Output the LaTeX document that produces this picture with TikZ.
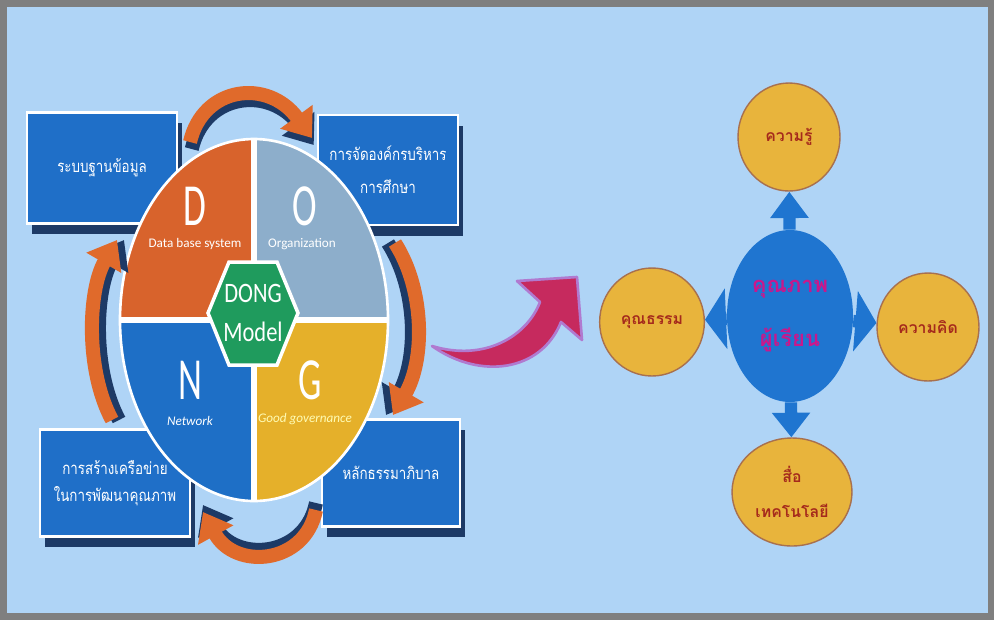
\documentclass[tikz,border=0pt]{standalone}
\usepackage{fontspec}
\usepackage{graphicx}
\setmainfont{Carlito}
\newfontfamily\thai[Script=Thai]{Loma}
\usetikzlibrary{shapes.geometric, arrows.meta, shadows}

\definecolor{bgblue}{HTML}{AFD4F6}
\definecolor{framegray}{HTML}{7F7F7F}
\definecolor{boxblue}{HTML}{1F6FC8}
\definecolor{navyshade}{HTML}{1D3A66}
\definecolor{dorange}{HTML}{D8632C}
\definecolor{ogray}{HTML}{8DAECB}
\definecolor{nblue}{HTML}{1E6FC6}
\definecolor{gyellow}{HTML}{E5B02A}
\definecolor{hexgreen}{HTML}{1F9B5D}
\definecolor{arrorange}{HTML}{E06A2B}
\definecolor{pinkarr}{HTML}{C62A5E}
\definecolor{pinkedge}{HTML}{B07AD0}
\definecolor{coreblue}{HTML}{1F75D0}
\definecolor{circyellow}{HTML}{E8B43C}
\definecolor{circedge}{HTML}{A8704E}
\definecolor{topicred}{HTML}{A52A1C}
\definecolor{coremag}{HTML}{C8188C}

\newcommand{\bigletter}[1]{\scalebox{0.62}[1]{\fontsize{34}{34}\selectfont #1}}
\newcommand{\squeeze}[1]{\scalebox{0.8}[1]{#1}}

\begin{document}
\begin{tikzpicture}[x=0.02cm, y=-0.02cm,
	panel/.style={fill=boxblue, draw=white, line width=1.5pt, text=white,
		align=center, font=\thai\fontsize{9.5}{19}\selectfont,
		drop shadow={shadow xshift=3pt, shadow yshift=-6pt, fill=navyshade, opacity=1}},
	quadletter/.style={text=white, inner sep=0pt},
	quadtext/.style={text=white, inner sep=1pt, font=\fontsize{7.5}{8}\selectfont},
	cyc/.style={draw=arrorange, line width=8pt, -{Triangle[width=22pt,length=15pt]}},
	cycshade/.style={draw=navyshade, line width=8pt, -{Triangle[width=22pt,length=15pt]}},
	topic/.style={ellipse, fill=circyellow, draw=circedge, line width=0.8pt,
		minimum width=2.04cm, minimum height=2.16cm, text=topicred, align=center,
		font=\thai\bfseries\fontsize{9}{20}\selectfont},
	spoke/.style={draw=coreblue, line width=7pt}]
	\path[use as bounding box] (0,0) rectangle (994,620);
	\fill[framegray] (0,0) rectangle (994,620);
	\fill[bgblue] (7,7) rectangle (988,613);
	
	% boxes round the model
	\node[panel, minimum width=3cm, minimum height=2.22cm] (dbbox) at (102,168) {\squeeze{ระบบฐานข้อมูล}};
	\node[panel, minimum width=2.8cm, minimum height=2.2cm] (orgbox) at (388,170) {\squeeze{การจัดองค์กรบริหาร}\\\squeeze{การศึกษา}};
	\node[panel, minimum width=3cm, minimum height=2.14cm, font=\thai\fontsize{9.5}{15}\selectfont] (netbox) at (115,483) {\squeeze{การสร้างเครือข่าย}\\\squeeze{ในการพัฒนาคุณภาพ}};
	\node[panel, minimum width=2.76cm, minimum height=2.14cm] (govbox) at (391,473) {\squeeze{หลักธรรมาภิบาล}};
	
	% the DONG circle
	\begin{scope}
		\clip (254,320) ellipse [x radius=134, y radius=181];
		\fill[dorange] (110,130) rectangle (254,320);
		\fill[ogray] (254,130) rectangle (400,320);
		\fill[nblue] (110,320) rectangle (254,510);
		\fill[gyellow] (254,320) rectangle (400,510);
		\draw[white, line width=3pt] (254,130) -- (254,510) (110,320) -- (400,320);
	\end{scope}
	\draw[white, line width=1.5pt] (254,320) ellipse [x radius=134, y radius=181];
	
	\node[quadletter] (d) at (195,206) {\bigletter{D}};
	\node[quadtext] (dt) at (195,244) {Data base system};
	\node[quadletter] (o) at (305,206) {\bigletter{O}};
	\node[quadtext] (ot) at (302,244) {Organization};
	\node[quadletter] (n) at (190,380) {\bigletter{N}};
	\node[quadtext, font=\itshape\fontsize{7.5}{8}\selectfont] (nt) at (190,421) {Network};
	\node[quadletter] (g) at (310,380) {\bigletter{G}};
	\node[quadtext, font=\itshape\fontsize{7.5}{8}\selectfont, text=yellow!30] (gt) at (305,419) {Good governance};
	
	\draw[fill=hexgreen, draw=white, line width=2pt] (208,313) -- (229,262) -- (277,262)
		-- (298,313) -- (277,365) -- (229,365) -- cycle;
	\node[text=white, align=center, inner sep=0pt, font=\fontsize{16}{22}\selectfont] (hub) at (253,313) {\squeeze{DONG}\\\squeeze{Model}};
	
	% cycle arrows
	\coordinate (t1) at (190,142); \coordinate (h1) at (312,138);
	\coordinate (t2) at (395,243); \coordinate (h2) at (393,415);
	\coordinate (t3) at (316,510); \coordinate (h3) at (203,512);
	\coordinate (t4) at (112,420); \coordinate (h4) at (117,240);
	\draw[cycshade, transform canvas={shift={(1pt,-4pt)}}] (t1) .. controls (203,86) and (268,78) .. (h1);
	\draw[cyc] (t1) .. controls (203,86) and (268,78) .. (h1);
	\draw[cycshade, transform canvas={shift={(-4pt,0pt)}}] (t2) .. controls (425,290) and (425,360) .. (h2);
	\draw[cyc] (t2) .. controls (425,290) and (425,360) .. (h2);
	\draw[cycshade, transform canvas={shift={(0pt,4pt)}}] (t3) .. controls (305,565) and (235,570) .. (h3);
	\draw[cyc] (t3) .. controls (305,565) and (235,570) .. (h3);
	\draw[cycshade, transform canvas={shift={(4pt,0pt)}}] (t4) .. controls (85,370) and (88,290) .. (h4);
	\draw[cyc] (t4) .. controls (85,370) and (88,290) .. (h4);
	
	% pink arrow
	\fill[pinkarr, draw=pinkedge, line width=1.5pt, line join=round] (432,346)
		.. controls (485,362) and (527,336) .. (540,302) -- (517,281) -- (577,277)
		-- (582,340) -- (561,322) .. controls (541,372) and (480,380) .. (432,346) -- cycle;
	
	% learner quality
	\node[ellipse, fill=coreblue, inner sep=0pt, minimum width=2.52cm, minimum height=3.44cm, text=coremag,
		align=center, font=\thai\bfseries\fontsize{12.5}{31}\selectfont] (core) at (790,316) {คุณภาพ\\ผู้เรียน};
	\node[topic] (know) at (789,137) {ความรู้};
	\node[topic] (moral) at (652,322) {คุณธรรม};
	\node[topic] (think) at (928,327) {ความคิด};
	\node[topic] (media) at (792,492) {สื่อ\\เทคโนโลยี};
	
	\draw[spoke, -{Triangle[width=21pt,length=15pt]}] (core) -- (know);
	\draw[spoke, -{Triangle[width=34pt,length=12pt]}] (core) -- (moral);
	\draw[spoke, -{Triangle[width=34pt,length=12pt]}] (core) -- (think);
	\draw[spoke, -{Triangle[width=21pt,length=14pt]}] (core) -- (media);
\end{tikzpicture}
\end{document}
